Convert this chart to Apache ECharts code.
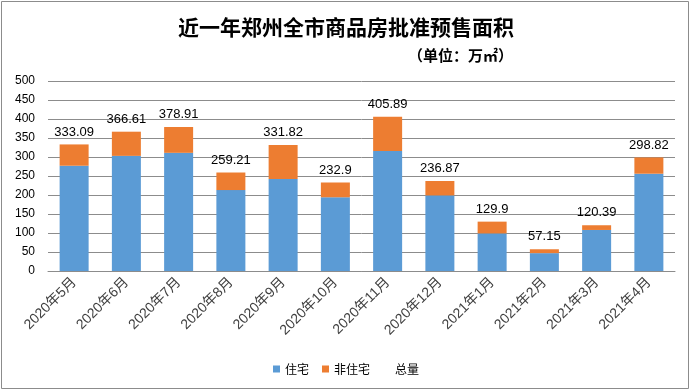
<!DOCTYPE html>
<html>
<head>
<meta charset="utf-8">
<script src="https://cdn.jsdelivr.net/npm/echarts@6/dist/echarts.min.js"></script>
<style>
html,body{margin:0;padding:0;background:#fff;}
#chart{width:692px;height:392px;}
</style>
</head>
<body>
<div id="chart"></div>
<script>
var categories = ['2020年5月','2020年6月','2020年7月','2020年8月','2020年9月','2020年10月','2020年11月','2020年12月','2021年1月','2021年2月','2021年3月','2021年4月'];
var residential = [277, 303, 311, 213, 242, 194, 316, 199, 99, 47, 108, 256];
var nonResidential = [56.1, 63.6, 67.9, 46.2, 89.8, 38.9, 89.9, 37.9, 30.9, 10.2, 12.4, 42.8];
var totals = [333.09, 366.61, 378.91, 259.21, 331.82, 232.9, 405.89, 236.87, 129.9, 57.15, 120.39, 298.82];
var yTicks = [0, 50, 100, 150, 200, 250, 300, 350, 400, 450, 500];

var chart = echarts.init(document.getElementById('chart'), null, {renderer: 'canvas'});
var option = {
  backgroundColor: '#ffffff',
  animation: false,
  title: [
    {
      text: '近一年郑州全市商品房批准预售面积',
      left: 'center',
      top: 12,
      textStyle: {fontFamily: 'Noto Sans CJK SC', fontSize: 21, fontWeight: 'bold', color: '#000'}
    },
    {
      text: '（单位：万㎡）',
      left: 403,
      top: 43,
      textStyle: {fontFamily: 'Noto Sans CJK SC', fontSize: 15, fontWeight: 'bold', color: '#000'}
    }
  ],
  graphic: [{
    type: 'rect',
    shape: {x: 1.5, y: 1.5, width: 687, height: 387},
    style: {fill: 'none', stroke: '#8c8c8c', lineWidth: 1},
    silent: true
  }],
  legend: {
    bottom: 12,
    left: 'center',
    itemWidth: 7,
    itemHeight: 7,
    itemGap: 13,
    textStyle: {fontFamily: 'Noto Sans CJK SC', fontSize: 12, color: '#000'},
    data: [
      {name: '住宅', icon: 'rect'},
      {name: '非住宅', icon: 'rect'},
      {name: '总量', icon: 'rect', itemStyle: {opacity: 0}}
    ]
  },
  grid: {left: 48, right: 17, top: 81, bottom: 121, containLabel: false},
  xAxis: {
    type: 'category',
    data: categories,
    axisLine: {lineStyle: {color: '#8c8c8c'}},
    axisTick: {show: false},
    axisLabel: {
      rotate: 45,
      interval: 0,
      margin: 9,
      fontFamily: 'Liberation Sans, Noto Sans CJK SC',
      fontSize: 14,
      color: '#404040'
    }
  },
  yAxis: {
    type: 'value',
    min: yTicks[0],
    max: yTicks[yTicks.length - 1],
    interval: 50,
    axisLine: {show: false},
    axisTick: {show: false},
    axisLabel: {margin: 13, fontFamily: 'Liberation Sans', fontSize: 12, color: '#000'},
    splitLine: {lineStyle: {color: '#8c8c8c', width: 1}}
  },
  series: [
    {
      name: '住宅',
      type: 'bar',
      stack: 'area',
      barWidth: 29,
      data: residential,
      itemStyle: {color: '#5B9BD5'}
    },
    {
      name: '非住宅',
      type: 'bar',
      stack: 'area',
      barWidth: 29,
      data: nonResidential,
      itemStyle: {color: '#ED7D31'},
      label: {
        show: true,
        position: 'top',
        distance: 6,
        fontFamily: 'Liberation Sans',
        fontSize: 13,
        color: '#000',
        formatter: function (p) { return String(totals[p.dataIndex]); }
      }
    },
    {
      name: '总量',
      type: 'line',
      data: totals,
      symbol: 'none',
      lineStyle: {opacity: 0},
      itemStyle: {color: 'rgba(0,0,0,0)'},
      silent: true
    }
  ]
};
chart.setOption(option);
</script>
</body>
</html>
